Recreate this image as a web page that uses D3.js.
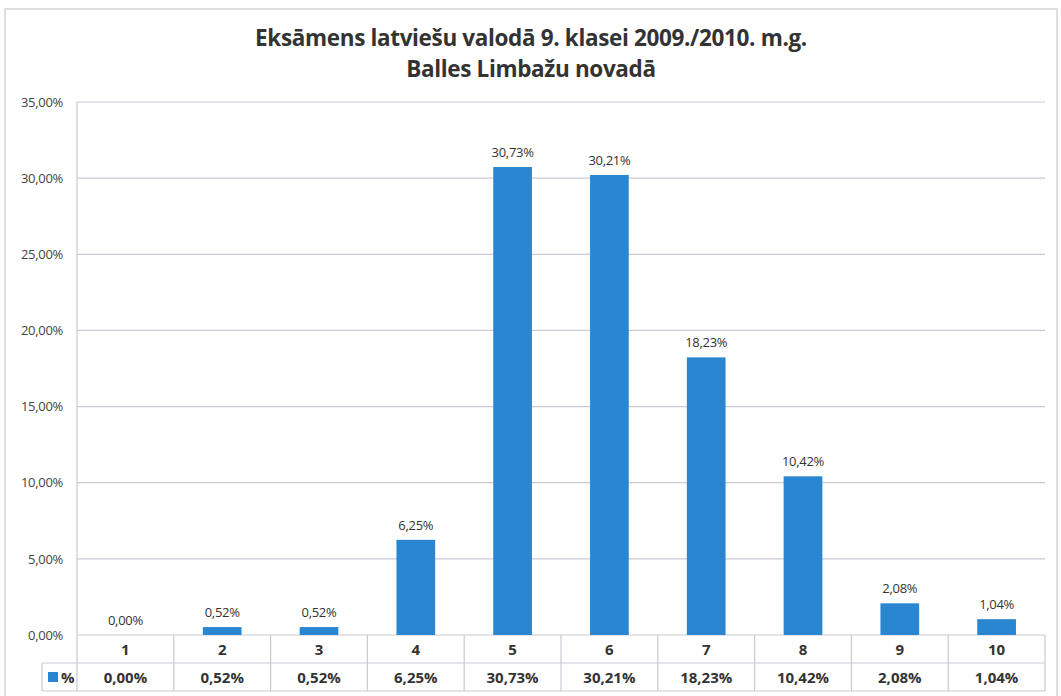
<!DOCTYPE html>
<html><head><meta charset="utf-8">
<script src="https://cdn.jsdelivr.net/npm/d3@7/dist/d3.min.js"></script>
<style>body{margin:0;background:#fff}</style>
</head><body>
<svg id="c" width="1061" height="696"></svg>
<script>
const categories = ["1","2","3","4","5","6","7","8","9","10"];
const values = [0.00, 0.52, 0.52, 6.25, 30.73, 30.21, 18.23, 10.42, 2.08, 1.04];
const yTicks = [0, 5, 10, 15, 20, 25, 30, 35];
const seriesName = "%";
const titleLines = ["Eksāmens latviešu valodā 9. klasei 2009./2010. m.g.", "Balles Limbažu novadā"];

(function(){
const fmt = v => v.toFixed(2).replace(".", ",") + "%";
const svg = d3.select("#c");
const pL = 77, pR = 1045, pT = 102, pB = 635;
const rowH = 28;
const grid = "#c9cad6";
const barColor = "#2b86d1";

svg.append("rect").attr("x",5).attr("y",9).attr("width",1052).attr("height",700)
  .attr("fill","none").attr("stroke","#d4d4d8").attr("stroke-width",1.5);

const x = d3.scaleBand().domain(categories).range([pL, pR]).paddingInner(0.6).paddingOuter(0.3);
const xc = d3.scaleBand().domain(categories).range([pL, pR]);
const y = d3.scaleLinear().domain([0, 35]).range([pB, pT]);

svg.append("g").selectAll("line").data(yTicks).join("line")
  .attr("x1", pL).attr("x2", pR).attr("y1", d => y(d)).attr("y2", d => y(d))
  .attr("stroke", grid).attr("stroke-width", 1.2);
svg.append("line").attr("x1", pL).attr("x2", pL).attr("y1", pT).attr("y2", pB + 2*rowH)
  .attr("stroke", grid).attr("stroke-width", 1.2);

const yAxis = d3.axisLeft(y).tickValues(yTicks).tickSize(0).tickPadding(14).tickFormat(d => fmt(d));
const ya = svg.append("g").attr("transform", `translate(${pL},0)`).call(yAxis);
ya.select(".domain").remove();
ya.selectAll("text").attr("font-family","Open Sans, sans-serif").attr("font-size",13).attr("fill","#444")
  .attr("letter-spacing","-0.3");

svg.append("g").selectAll("rect").data(values).join("rect")
  .attr("x", (d,i) => x(categories[i])).attr("width", x.bandwidth())
  .attr("y", d => y(d)).attr("height", d => y(0) - y(d)).attr("fill", barColor);

svg.append("g").selectAll("text").data(values).join("text")
  .attr("x", (d,i) => x(categories[i]) + x.bandwidth()/2)
  .attr("y", d => y(d) - 10).attr("text-anchor","middle")
  .attr("font-family","Open Sans, sans-serif").attr("font-size",13).attr("fill","#333")
  .attr("letter-spacing","-0.3")
  .text(d => fmt(d));

const tg = svg.append("g");
const legendLeft = 42;
tg.append("line").attr("x1", pL).attr("x2", pR).attr("y1", pB + rowH).attr("y2", pB + rowH).attr("stroke", grid).attr("stroke-width",1.2);
tg.append("line").attr("x1", legendLeft).attr("x2", pL).attr("y1", pB + rowH).attr("y2", pB + rowH).attr("stroke", grid).attr("stroke-width",1.2);
tg.append("line").attr("x1", legendLeft).attr("x2", pR).attr("y1", pB + 2*rowH).attr("y2", pB + 2*rowH).attr("stroke", grid).attr("stroke-width",1.2);
tg.append("line").attr("x1", legendLeft).attr("x2", legendLeft).attr("y1", pB + rowH).attr("y2", pB + 2*rowH).attr("stroke", grid).attr("stroke-width",1.2);
tg.selectAll("line.v").data(categories).join("line").attr("class","v")
  .attr("x1", d => xc(d) + xc.bandwidth()).attr("x2", d => xc(d) + xc.bandwidth())
  .attr("y1", pB).attr("y2", pB + 2*rowH).attr("stroke", grid).attr("stroke-width",1.2);
tg.selectAll("text.cat").data(categories).join("text").attr("class","cat")
  .attr("x", d => xc(d) + xc.bandwidth()/2).attr("y", pB + rowH/2 + 5.5)
  .attr("text-anchor","middle").attr("font-family","Open Sans, sans-serif")
  .attr("font-weight","bold").attr("font-size",15).attr("fill","#333").text(d => d);
tg.selectAll("text.val").data(values).join("text").attr("class","val")
  .attr("x", (d,i) => xc(categories[i]) + xc.bandwidth()/2).attr("y", pB + rowH*1.5 + 5.5)
  .attr("text-anchor","middle").attr("font-family","Open Sans, sans-serif")
  .attr("font-weight","bold").attr("font-size",15).attr("fill","#333").text(d => fmt(d));
tg.append("rect").attr("x", 48).attr("y", pB + rowH*1.5 - 5).attr("width", 10).attr("height", 10).attr("fill", barColor);
tg.append("text").attr("x", 61).attr("y", pB + rowH*1.5 + 5.5).attr("font-family","Open Sans, sans-serif")
  .attr("font-weight","bold").attr("font-size",15).attr("fill","#333").text(seriesName);

svg.append("g").selectAll("text").data(titleLines).join("text")
  .attr("x", 531).attr("y", (d,i) => 46 + i*31).attr("text-anchor","middle")
  .attr("font-family","Open Sans, sans-serif").attr("font-weight","bold").attr("font-size",22.5)
  .attr("fill","#333").attr("letter-spacing","-0.35").text(d => d);
})();
</script>
</body></html>
